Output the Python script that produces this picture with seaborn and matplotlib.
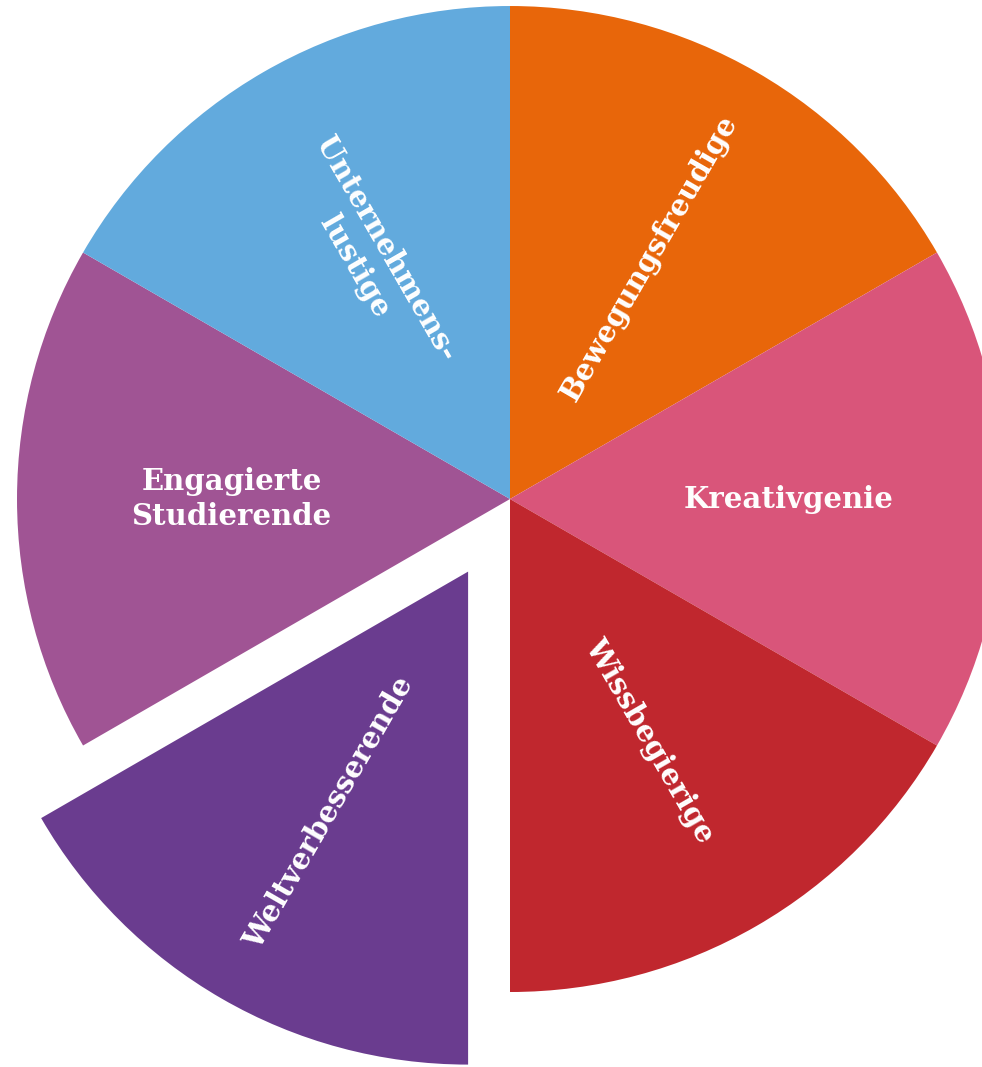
import matplotlib
matplotlib.use("Agg")
import matplotlib.pyplot as plt
import seaborn as sns

# six equally sized groups, clockwise from 12 o'clock
labels = ["Bewegungsfreudige", "Kreativgenie", "Wissbegierige",
          "Weltverbesserende", "Engagierte\nStudierende", "Unternehmens-\nlustige"]
shares = [1, 1, 1, 1, 1, 1]
colors = ["#E8660A", "#D9557A", "#C0272E", "#6A3C8F", "#A05494", "#62AADD"]
explode = [0, 0, 0, 0.17, 0, 0]

sns.set_theme(style="white")
plt.rcParams["font.family"] = ["DejaVu Serif"]

fig = plt.figure(figsize=(9.82, 10.67), dpi=100)
ax = fig.add_axes([0, 0, 1, 1])

wedges, texts = ax.pie(
    shares, labels=labels, colors=colors, explode=explode,
    startangle=90, counterclock=False, labeldistance=0.565,
    rotatelabels=True, wedgeprops=dict(linewidth=0),
    textprops=dict(color="white", fontsize=21, fontweight="bold"),
)
for t in texts:
    t.set_ha("center")
    t.set_va("center")
    t.set_rotation_mode("anchor")
    t.set_multialignment("center")
    t.set_linespacing(1.3)

ax.set_xlim(-1.0345, 0.9574)
ax.set_ylim(-1.1521, 1.0122)
ax.set_aspect("equal")
ax.axis("off")

fig.savefig("out.png", dpi=100, facecolor="white")
plt.close(fig)
